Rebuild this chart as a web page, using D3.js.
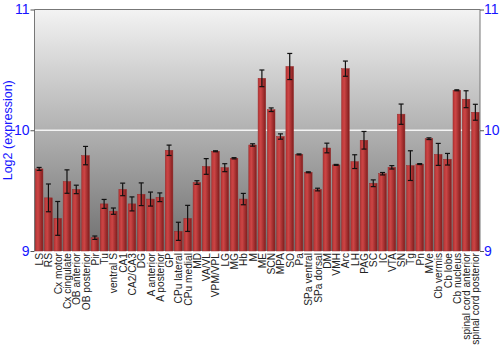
<!DOCTYPE html>
<html>
<head>
<meta charset="utf-8">
<script src="https://cdn.jsdelivr.net/npm/d3@7"></script>
<style>
  body { margin: 0; background: #fff; }
  svg { display: block; font-family: "Liberation Sans", Arial, sans-serif; }
  .tick text { fill: #1515ff; font-size: 14px; }
  .xlab { fill: #222; font-size: 10.2px; }
</style>
</head>
<body>
<div class="vizcontainer"></div>
<script>
const regions = ["LS", "RS", "Cx motor", "Cx cingulate", "OB anterior", "OB posterior", "Pir", "Tu",
  "ventral S", "CA1", "CA2/CA3", "DG", "A anterior", "A posterior", "GP", "CPu lateral", "CPu medial",
  "MD", "VA/VL", "VPM/VPL", "LG", "MG", "Hb", "M", "ME", "SCN", "MPA", "SO", "Pa", "SPa ventral",
  "SPa dorsal", "DM", "VMH", "Arc", "LH", "PAG", "SC", "IC", "VTA", "SN", "Tg", "Pn", "MVe",
  "Cb vermis", "Cb lobe", "Cb nucleus", "spinal cord anterior", "spinal cord posterior"];

const expression = [9.68, 9.44, 9.27, 9.575, 9.51, 9.79, 9.11, 9.39,
  9.33, 9.51, 9.39, 9.47, 9.43, 9.445, 9.834, 9.163, 9.27,
  9.567, 9.70, 9.826, 9.69, 9.768, 9.43, 9.878, 10.43, 10.17, 9.948, 10.528, 9.80, 9.652,
  9.509, 9.853, 9.713, 10.51, 9.74, 9.917, 9.561, 9.64, 9.693, 10.133, 9.707, 9.72, 9.93,
  9.80, 9.76, 10.331, 10.257, 10.149];

const stderr = [0.012, 0.115, 0.14, 0.097, 0.035, 0.076, 0.014, 0.037,
  0.026, 0.052, 0.058, 0.094, 0.058, 0.036, 0.043, 0.075, 0.108,
  0.015, 0.065, 0.004, 0.033, 0.005, 0.047, 0.01, 0.069, 0.015, 0.022, 0.108, 0.004, 0.004,
  0.011, 0.04, 0.004, 0.063, 0.057, 0.073, 0.028, 0.01, 0.014, 0.084, 0.123, 0.004, 0.007,
  0.091, 0.048, 0.004, 0.07, 0.066];

const yTicks = [9, 10, 11];

const padding = ({ top: 9.5, left: 34.5, right: 20, bottom: 99 });
const chart = ({ x: 500, y: 350 });

const data = regions.map((r, i) => ({ name: r, value: expression[i], err: stderr[i] }));

var svg = d3.select(".vizcontainer")
  .append("svg")
  .attr("width", chart.x)
  .attr("height", chart.y);

var defs = svg.append("defs");

var bg = defs.append("linearGradient").attr("id", "bg")
  .attr("x1", 0).attr("y1", 0).attr("x2", 0).attr("y2", 1);
bg.append("stop").attr("offset", "0%").attr("stop-color", "#f3f3f3");
bg.append("stop").attr("offset", "100%").attr("stop-color", "#6f6f6f");

var barGrad = defs.append("linearGradient").attr("id", "bar")
  .attr("x1", 0).attr("y1", 0).attr("x2", 1).attr("y2", 0);
barGrad.append("stop").attr("offset", "0%").attr("stop-color", "#b83535");
barGrad.append("stop").attr("offset", "35%").attr("stop-color", "#cc4545");
barGrad.append("stop").attr("offset", "100%").attr("stop-color", "#801d1d");

var x = d3.scaleBand()
  .domain(regions)
  .range([padding.left, chart.x - padding.right])
  .paddingInner(0.18)
  .paddingOuter(0.09);

var y = d3.scaleLinear()
  .domain([9, 11])
  .range([chart.y - padding.bottom, padding.top]);

// plot background
svg.append("rect")
  .attr("x", padding.left)
  .attr("y", padding.top)
  .attr("width", chart.x - padding.right - padding.left)
  .attr("height", y(9) - padding.top)
  .attr("fill", "url(#bg)");

svg.append("line")
  .attr("x1", padding.left).attr("x2", chart.x - padding.right)
  .attr("y1", padding.top).attr("y2", padding.top)
  .attr("stroke", "#777");

// grid line at 10
svg.append("line")
  .attr("x1", padding.left).attr("x2", chart.x - padding.right)
  .attr("y1", y(10)).attr("y2", y(10))
  .attr("stroke", "#f4f4f4")
  .attr("stroke-width", 1.5);

// bars
svg.selectAll("rect.bar")
  .data(data)
  .enter()
  .append("rect")
  .attr("class", "bar")
  .attr("x", d => x(d.name))
  .attr("y", d => y(d.value))
  .attr("width", x.bandwidth())
  .attr("height", d => y(9) - y(d.value))
  .attr("fill", "url(#bar)")
  .attr("stroke", "#9a2a2a")
  .attr("stroke-width", 0.5);

// error bars
var eb = svg.append("g").attr("stroke", "#111").attr("stroke-width", 1.2);
data.forEach(d => {
  var cx = x(d.name) + x.bandwidth() / 2;
  eb.append("line")
    .attr("x1", cx).attr("x2", cx)
    .attr("y1", y(d.value - d.err)).attr("y2", y(d.value + d.err));
  [d.value - d.err, d.value + d.err].forEach(v => {
    eb.append("line")
      .attr("x1", cx - 2.5).attr("x2", cx + 2.5)
      .attr("y1", y(v)).attr("y2", y(v));
  });
});

// axes
var yAxisL = d3.axisLeft(y).tickValues(yTicks).tickSize(4).tickFormat(d3.format("d"));
var yAxisR = d3.axisRight(y).tickValues(yTicks).tickSize(4).tickFormat(d3.format("d"));

svg.append("g")
  .attr("transform", "translate(" + padding.left + ",0)")
  .call(yAxisL)
  .call(g => g.select(".domain").attr("stroke", "#777").attr("d", "M0," + padding.top + "V" + y(9)))
  .call(g => g.selectAll(".tick line").attr("stroke", "#555"))
  .call(g => g.selectAll(".tick text").attr("x", -5));

svg.append("g")
  .attr("transform", "translate(" + (chart.x - padding.right) + ",0)")
  .call(yAxisR)
  .call(g => g.select(".domain").attr("stroke", "#777").attr("d", "M0," + padding.top + "V" + y(9)))
  .call(g => g.selectAll(".tick line").attr("stroke", "#555"))
  .call(g => g.selectAll(".tick text").attr("x", 4));

svg.append("text")
  .attr("text-anchor", "middle")
  .attr("transform", "rotate(-90)")
  .attr("x", -y(10))
  .attr("y", 12)
  .attr("fill", "#1515ff")
  .style("font-size", "12.5px")
  .text("Log2 (expression)");

// x labels
svg.selectAll("text.xlab")
  .data(data)
  .enter()
  .append("text")
  .attr("class", "xlab")
  .attr("text-anchor", "end")
  .attr("transform", d => "translate(" + (x(d.name) + x.bandwidth() / 2 + 4) + "," + (y(9) + 2) + ") rotate(-90)")
  .text(d => d.name);
</script>
</body>
</html>
